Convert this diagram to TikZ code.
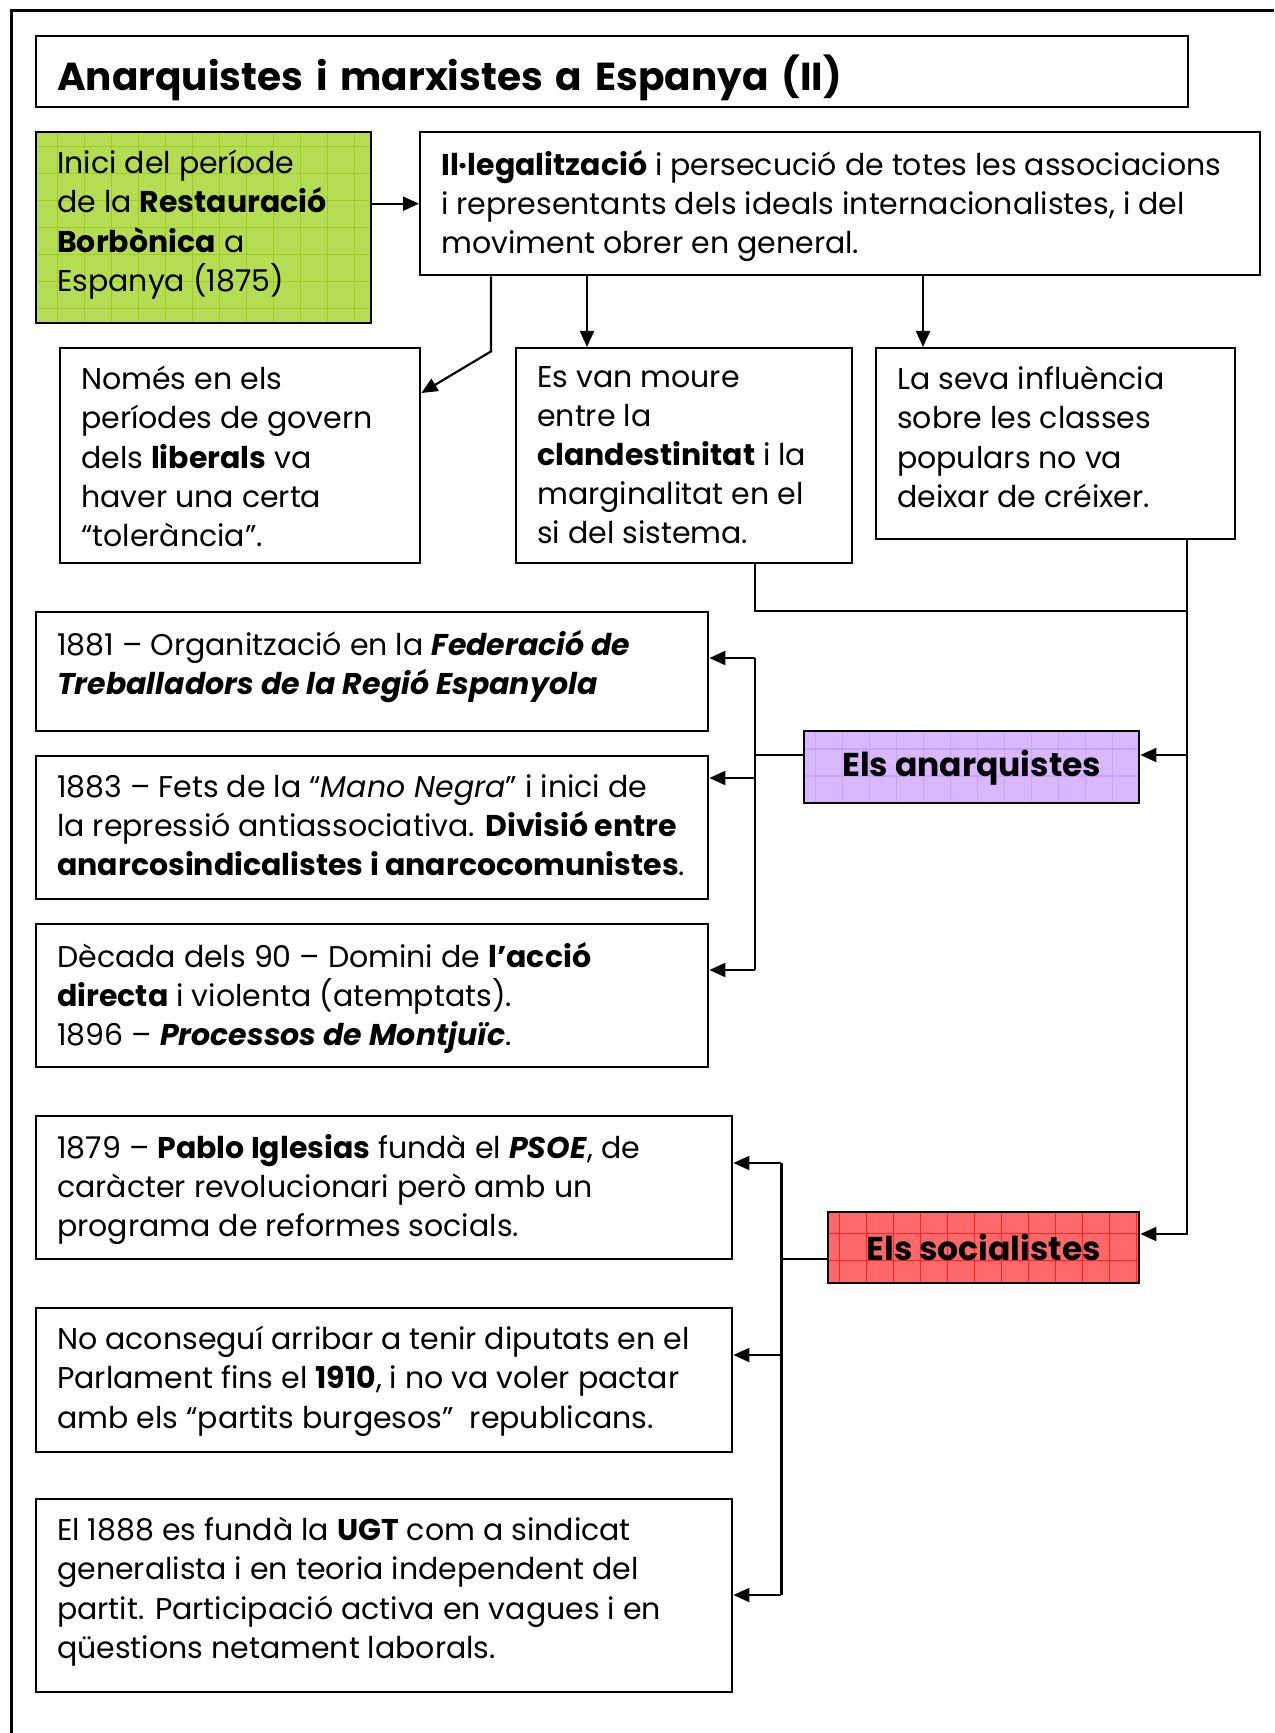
\documentclass[tikz,border=0pt]{standalone}
\usepackage{fontspec}
\setmainfont{Poppins}
\usetikzlibrary{positioning,calc,arrows.meta}
\definecolor{boxgreen}{RGB}{181,221,84}
\definecolor{gridgreen}{RGB}{156,206,34}
\definecolor{boxlilac}{RGB}{217,184,255}
\definecolor{gridlilac}{RGB}{199,164,246}
\definecolor{boxred}{RGB}{255,104,104}
\definecolor{gridred}{RGB}{248,36,36}
\newcommand{\boxtext}[3]{\parbox[t][#2][t]{#1}{\raggedright #3}}

\begin{document}
\begin{tikzpicture}[x=0.5pt,y=-0.5pt,
  box/.style={draw,line width=1.2pt,anchor=north west,inner xsep=10.5pt,inner ysep=9pt,
    font=\fontsize{15}{19.6}\selectfont},
  tag/.style={draw,line width=1.2pt,anchor=north west,font=\fontsize{16.5}{20}\selectfont\bfseries},
  gridfill/.style 2 args={fill=#1,path picture={
    \draw[#2,line width=0.6pt] (path picture bounding box.south west) grid[step=13.5pt] (path picture bounding box.north east);}},
  link/.style={line width=1.1pt},
  arr/.style={line width=1.1pt,-{Triangle[length=8pt,width=7pt]}}]
\useasboundingbox (0,0) rectangle (1274,1733);
\draw[line width=1.5pt] (11,1733) -- (11,11) -- (1274,11);
% title
\node[draw,line width=1.2pt,anchor=north west,text width=555pt,inner xsep=10.5pt,inner ysep=0pt,
  minimum height=35.5pt,text height=19pt,text depth=0.5pt,
  align=left,font=\fontsize{19.5}{24}\selectfont\bfseries] (title) at (35,35) {Anarquistes i marxistes a Espanya (II)};
% top row
\node[box,gridfill={boxgreen}{gridgreen}] (green) at (35,131)
  {\boxtext{146.5pt}{77.5pt}{Inici del període\\ de la \textbf{Restauració}\\ \textbf{Borbònica} a\\ Espanya (1875)}};
\node[box] (ileg) at (419,131)
  {\boxtext{399pt}{53.5pt}{\textbf{Il·legalització} i persecució de totes les associacions\\ i representants dels ideals internacionalistes, i del\\ moviment obrer en general.}};
% second row
\node[box] (nomes) at (59,347)
  {\boxtext{159pt}{89.5pt}{Només en els\\ períodes de govern\\ dels \textbf{liberals} va\\ haver una certa\\ “tolerància”.}};
\node[box] (esvan) at (515,347)
  {\boxtext{147pt}{89.5pt}{Es van moure\\ entre la\\ \textbf{clandestinitat} i la\\ marginalitat en el\\ si del sistema.}};
\node[box] (seva) at (875,347)
  {\boxtext{158.5pt}{77.5pt}{La seva influència\\ sobre les classes\\ populars no va\\ deixar de créixer.}};
% anarchists
\node[box] (fed) at (35,611)
  {\boxtext{315pt}{41.5pt}{1881 – Organització en la \textbf{\textit{Federació de}}\\ \textbf{\textit{Treballadors de la Regió Espanyola}}}};
\node[box] (rep) at (35,755)
  {\boxtext{315pt}{53.5pt}{1883 – Fets de la “\textit{Mano Negra}” i inici de\\ la repressió antiassociativa. \textbf{Divisió entre}\\ \mbox{\textbf{anarcosindicalistes i anarcocomunistes}.}}};
\node[box] (dec) at (35,923)
  {\boxtext{315pt}{53.5pt}{Dècada dels 90 – Domini de \textbf{l’acció}\\ \textbf{directa} i violenta (atemptats).\\ 1896 – \textbf{\textit{Processos de Montjuïc}}.}};
\node[tag,gridfill={boxlilac}{gridlilac},minimum width=167.5pt,minimum height=36pt] (anq) at (803,730) {Els anarquistes};
% socialists
\node[box] (psoe) at (35,1115)
  {\boxtext{327pt}{53.5pt}{1879 – \textbf{Pablo Iglesias} fundà el \textbf{\textit{PSOE}}, de\\ caràcter revolucionari però amb un\\ programa de reformes socials.}};
\node[box] (parl) at (35,1307)
  {\boxtext{327pt}{54pt}{No aconseguí arribar a tenir diputats en el\\ Parlament fins el \textbf{1910}, i no va voler pactar\\ amb els “partits burgesos”\ \ republicans.}};
\node[box] (ugt) at (35,1498)
  {\boxtext{327pt}{78.5pt}{El 1888 es fundà la \textbf{UGT} com a sindicat\\ generalista i en teoria independent del\\ partit. Participació activa en vagues i en\\ qüestions netament laborals.}};
\node[tag,gridfill={boxred}{gridred},minimum width=155.5pt,minimum height=35.5pt] (soc) at (827,1211) {Els socialistes};
% links from the top box
\draw[arr] (green.east |- ileg.west) -- (ileg.west);
\draw[arr] ($(ileg.south west)+(72,0)$) -- ++(0,75) -- ($(nomes.north east)+(0,46)$);
\coordinate (esvtop) at ($(esvan.north west)+(72,0)$);
\coordinate (sevtop) at ($(seva.north west)+(48,0)$);
\draw[arr] (ileg.south -| esvtop) -- (esvtop);
\draw[arr] (ileg.south -| sevtop) -- (sevtop);
% trunk down the right side
\coordinate (esvbot) at ($(esvan.south west)+(240,0)$);
\coordinate (sevbot) at ($(seva.south west)+(312,0)$);
\coordinate (anqR) at ($(anq.north east)+(0,25)$);
\draw[link] (esvbot) |- (sevbot |- fed.north);
\draw[arr] (sevbot) |- ($(soc.north east)+(0,23)$);
\draw[arr] (sevbot |- anqR) -- (anqR);
% anarchist branch
\coordinate (anqL) at ($(anq.north west)+(0,25)$);
\coordinate (fedR) at ($(fed.north east)+(0,47)$);
\coordinate (repR) at ($(rep.north east)+(0,23)$);
\coordinate (decR) at ($(dec.north east)+(0,47)$);
\draw[link] (anqL) -- (anqL -| esvbot);
\draw[link] (fedR -| esvbot) -- (decR -| esvbot);
\foreach \t in {fedR,repR,decR}
  \draw[arr] (\t -| esvbot) -- (\t);
% socialist branch
\coordinate (socL) at ($(soc.north west)+(0,48)$);
\coordinate (psoeR) at ($(psoe.north east)+(0,48)$);
\coordinate (parlR) at ($(parl.north east)+(0,48)$);
\coordinate (ugtR) at ($(ugt.north east)+(0,97)$);
\coordinate (strunk) at ($(psoeR)+(48,0)$);
\draw[link] (socL) -- (socL -| strunk);
\draw[link] (strunk) -- (ugtR -| strunk);
\foreach \t in {psoeR,parlR,ugtR}
  \draw[arr] (\t -| strunk) -- (\t);
\end{tikzpicture}
\end{document}
